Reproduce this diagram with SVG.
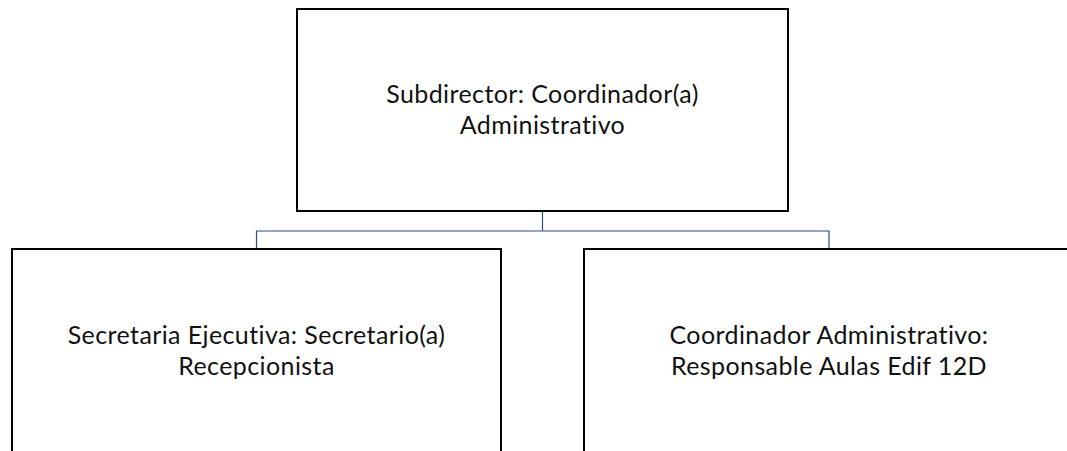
<svg xmlns="http://www.w3.org/2000/svg" width="1067" height="451" viewBox="0 0 1067 451">
  <style>
    .box { fill: #ffffff; stroke: #000000; stroke-width: 2; }
    .conn { fill: none; stroke: #2F4A85; stroke-width: 1.2; }
    .lbl { font-family: Lato, "Open Sans", sans-serif; font-size: 25px; font-weight: 400; fill: #111111; text-anchor: middle; letter-spacing: 0.4px; font-variant-ligatures: none; }
  </style>
  <rect width="1067" height="451" fill="#ffffff"/>
  <g id="connectors">
    <path class="conn" d="M542.5 211 V231 M256.5 249 V231 H829 V249"/>
  </g>
  <g id="node-subdirector">
    <rect class="box" x="297" y="9" width="491" height="202"/>
    <text class="lbl" x="542.5" y="102.5">Subdirector: Coordinador(a)</text>
    <text class="lbl" x="542.5" y="134">Administrativo</text>
  </g>
  <g id="node-secretaria">
    <rect class="box" x="12" y="249" width="489" height="220"/>
    <text class="lbl" x="256.5" y="344">Secretaria Ejecutiva: Secretario(a)</text>
    <text class="lbl" x="256.5" y="375">Recepcionista</text>
  </g>
  <g id="node-coordinador">
    <rect class="box" x="584" y="249" width="500" height="220"/>
    <text class="lbl" x="829" y="344">Coordinador Administrativo:</text>
    <text class="lbl" x="829" y="375">Responsable Aulas Edif 12D</text>
  </g>
</svg>
